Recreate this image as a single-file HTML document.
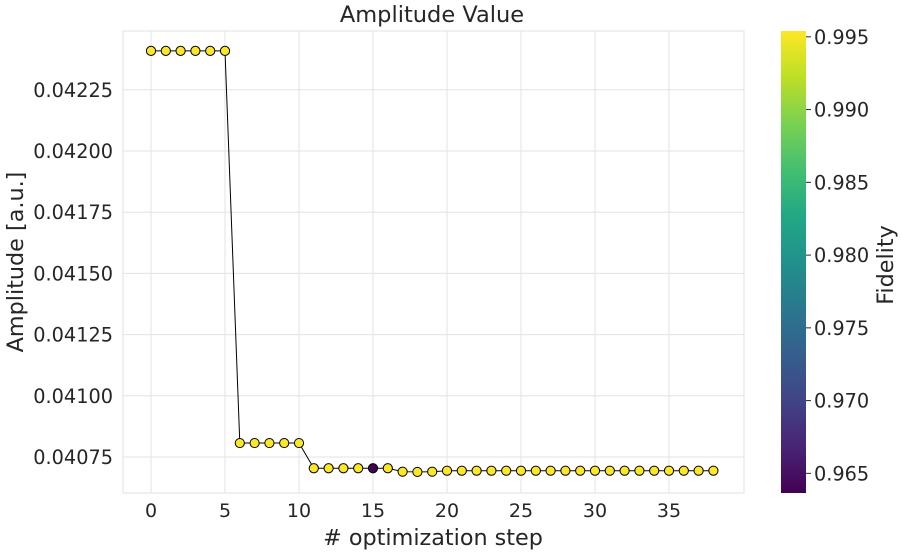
<!DOCTYPE html>
<html><head><meta charset="utf-8"><style>
body{margin:0;background:#fff;font-family:"Liberation Sans","DejaVu Sans",sans-serif}
svg text{font-family:"DejaVu Sans","Liberation Sans",sans-serif;fill:#262626}
</style></head><body>
<svg id="c" width="902" height="555" xmlns="http://www.w3.org/2000/svg">
<defs><linearGradient id="vir" x1="0" y1="1" x2="0" y2="0">
<stop offset="0" stop-color="#440154"/><stop offset="0.1" stop-color="#482475"/><stop offset="0.2" stop-color="#414487"/><stop offset="0.3" stop-color="#355f8d"/><stop offset="0.4" stop-color="#2a788e"/><stop offset="0.5" stop-color="#21918c"/><stop offset="0.6" stop-color="#22a884"/><stop offset="0.7" stop-color="#44bf70"/><stop offset="0.8" stop-color="#7ad151"/><stop offset="0.9" stop-color="#bddf26"/><stop offset="1" stop-color="#fde725"/>
</linearGradient></defs>
<g id="g"></g>
</svg>
<script>
const steps=[];for(let i=0;i<=38;i++)steps.push(i);
const amplitudes=[0.042409,0.042409,0.042409,0.042409,0.042409,0.042409,0.040807,0.040807,0.040807,0.040807,0.040807,0.040704,0.040704,0.040704,0.040704,0.040704,0.040704,0.040690,0.040689,0.040690,0.040694,0.040694,0.040694,0.040694,0.040694,0.040694,0.040694,0.040694,0.040694,0.040694,0.040694,0.040694,0.040694,0.040694,0.040694,0.040694,0.040694,0.040694,0.040694];
const fidelity=[0.9953,0.9953,0.9953,0.9953,0.9953,0.9953,0.9953,0.9953,0.9953,0.9953,0.9953,0.9953,0.9953,0.9953,0.9953,0.96365,0.9953,0.9953,0.9953,0.9953,0.9953,0.9953,0.9953,0.9953,0.9953,0.9953,0.9953,0.9953,0.9953,0.9953,0.9953,0.9953,0.9953,0.9953,0.9953,0.9953,0.9953,0.9953,0.9953];
const xTicks=[0,5,10,15,20,25,30,35];
const yTicks=[0.04075,0.04100,0.04125,0.04150,0.04175,0.04200,0.04225];
const cTicks=[0.965,0.970,0.975,0.980,0.985,0.990,0.995];
const NS="http://www.w3.org/2000/svg",g=document.getElementById('g');
const L=123,R=744,T=31,B=493;
const sx=v=>151+(v-0)*14.8;
const sy=v=>457-(v-0.04075)/0.001*244.8;
const cmin=0.96365,cmax=0.9954;
const sc=v=>493-(v-cmin)/(cmax-cmin)*462;
function el(t,a,txt){const e=document.createElementNS(NS,t);for(const k in a)e.setAttribute(k,a[k]);if(txt!=null)e.textContent=txt;g.appendChild(e);return e;}
const vir=["#440154","#482475","#414487","#355f8d","#2a788e","#21918c","#22a884","#44bf70","#7ad151","#bddf26","#fde725"];
function hex(h){return [1,3,5].map(i=>parseInt(h.substr(i,2),16));}
function cmap(v){let t=Math.max(0,Math.min(1,(v-cmin)/(cmax-cmin)))*10;let i=Math.min(9,Math.floor(t)),f=t-i;const a=hex(vir[i]),b=hex(vir[i+1]);return 'rgb('+a.map((x,k)=>Math.round(x+(b[k]-x)*f)).join(',')+')';}
let e=el('rect',{x:L,y:T,width:R-L,height:B-T,fill:'#fff',stroke:'#e0e0e0'});

xTicks.forEach(v=>{let l=el('line',{x1:sx(v),x2:sx(v),y1:T,y2:B,stroke:'#e3e3e3'});
let t=el('text',{x:sx(v),y:517,'text-anchor':'middle','font-size':19},String(v));});
yTicks.forEach(v=>{let l=el('line',{x1:L,x2:R,y1:sy(v),y2:sy(v),stroke:'#e3e3e3'});
let t=el('text',{x:113,y:sy(v)+7,'text-anchor':'end','font-size':19.3},v.toFixed(5));});
let pts=steps.map((s,i)=>sx(s)+','+sy(amplitudes[i])).join(' ');
e=el('polyline',{points:pts,fill:'none',stroke:'#000','stroke-width':1});

steps.forEach((s,i)=>{let c=el('circle',{cx:sx(s),cy:sy(amplitudes[i]),r:4.6,fill:cmap(fidelity[i]),stroke:'#000','stroke-width':1});
});
e=el('text',{x:432,y:22,'text-anchor':'middle','font-size':22.5},'Amplitude Value');
e=el('text',{x:433,y:545,'text-anchor':'middle','font-size':22.3},'# optimization step');
e=el('text',{x:0,y:0,'text-anchor':'middle','font-size':22.3,transform:'translate(23,262) rotate(-90)'},'Amplitude [a.u.]');
e=el('rect',{x:781,y:31,width:25,height:462,fill:'url(#vir)'});
cTicks.forEach(v=>{let y=sc(v);let l=el('line',{x1:806,x2:811,y1:y,y2:y,stroke:'#262626'});
let t=el('text',{x:814,y:y+7,'font-size':19.3},v.toFixed(3));});
e=el('text',{x:0,y:0,'text-anchor':'middle','font-size':22.3,transform:'translate(893,265) rotate(-90)'},'Fidelity');
</script>
</body></html>
